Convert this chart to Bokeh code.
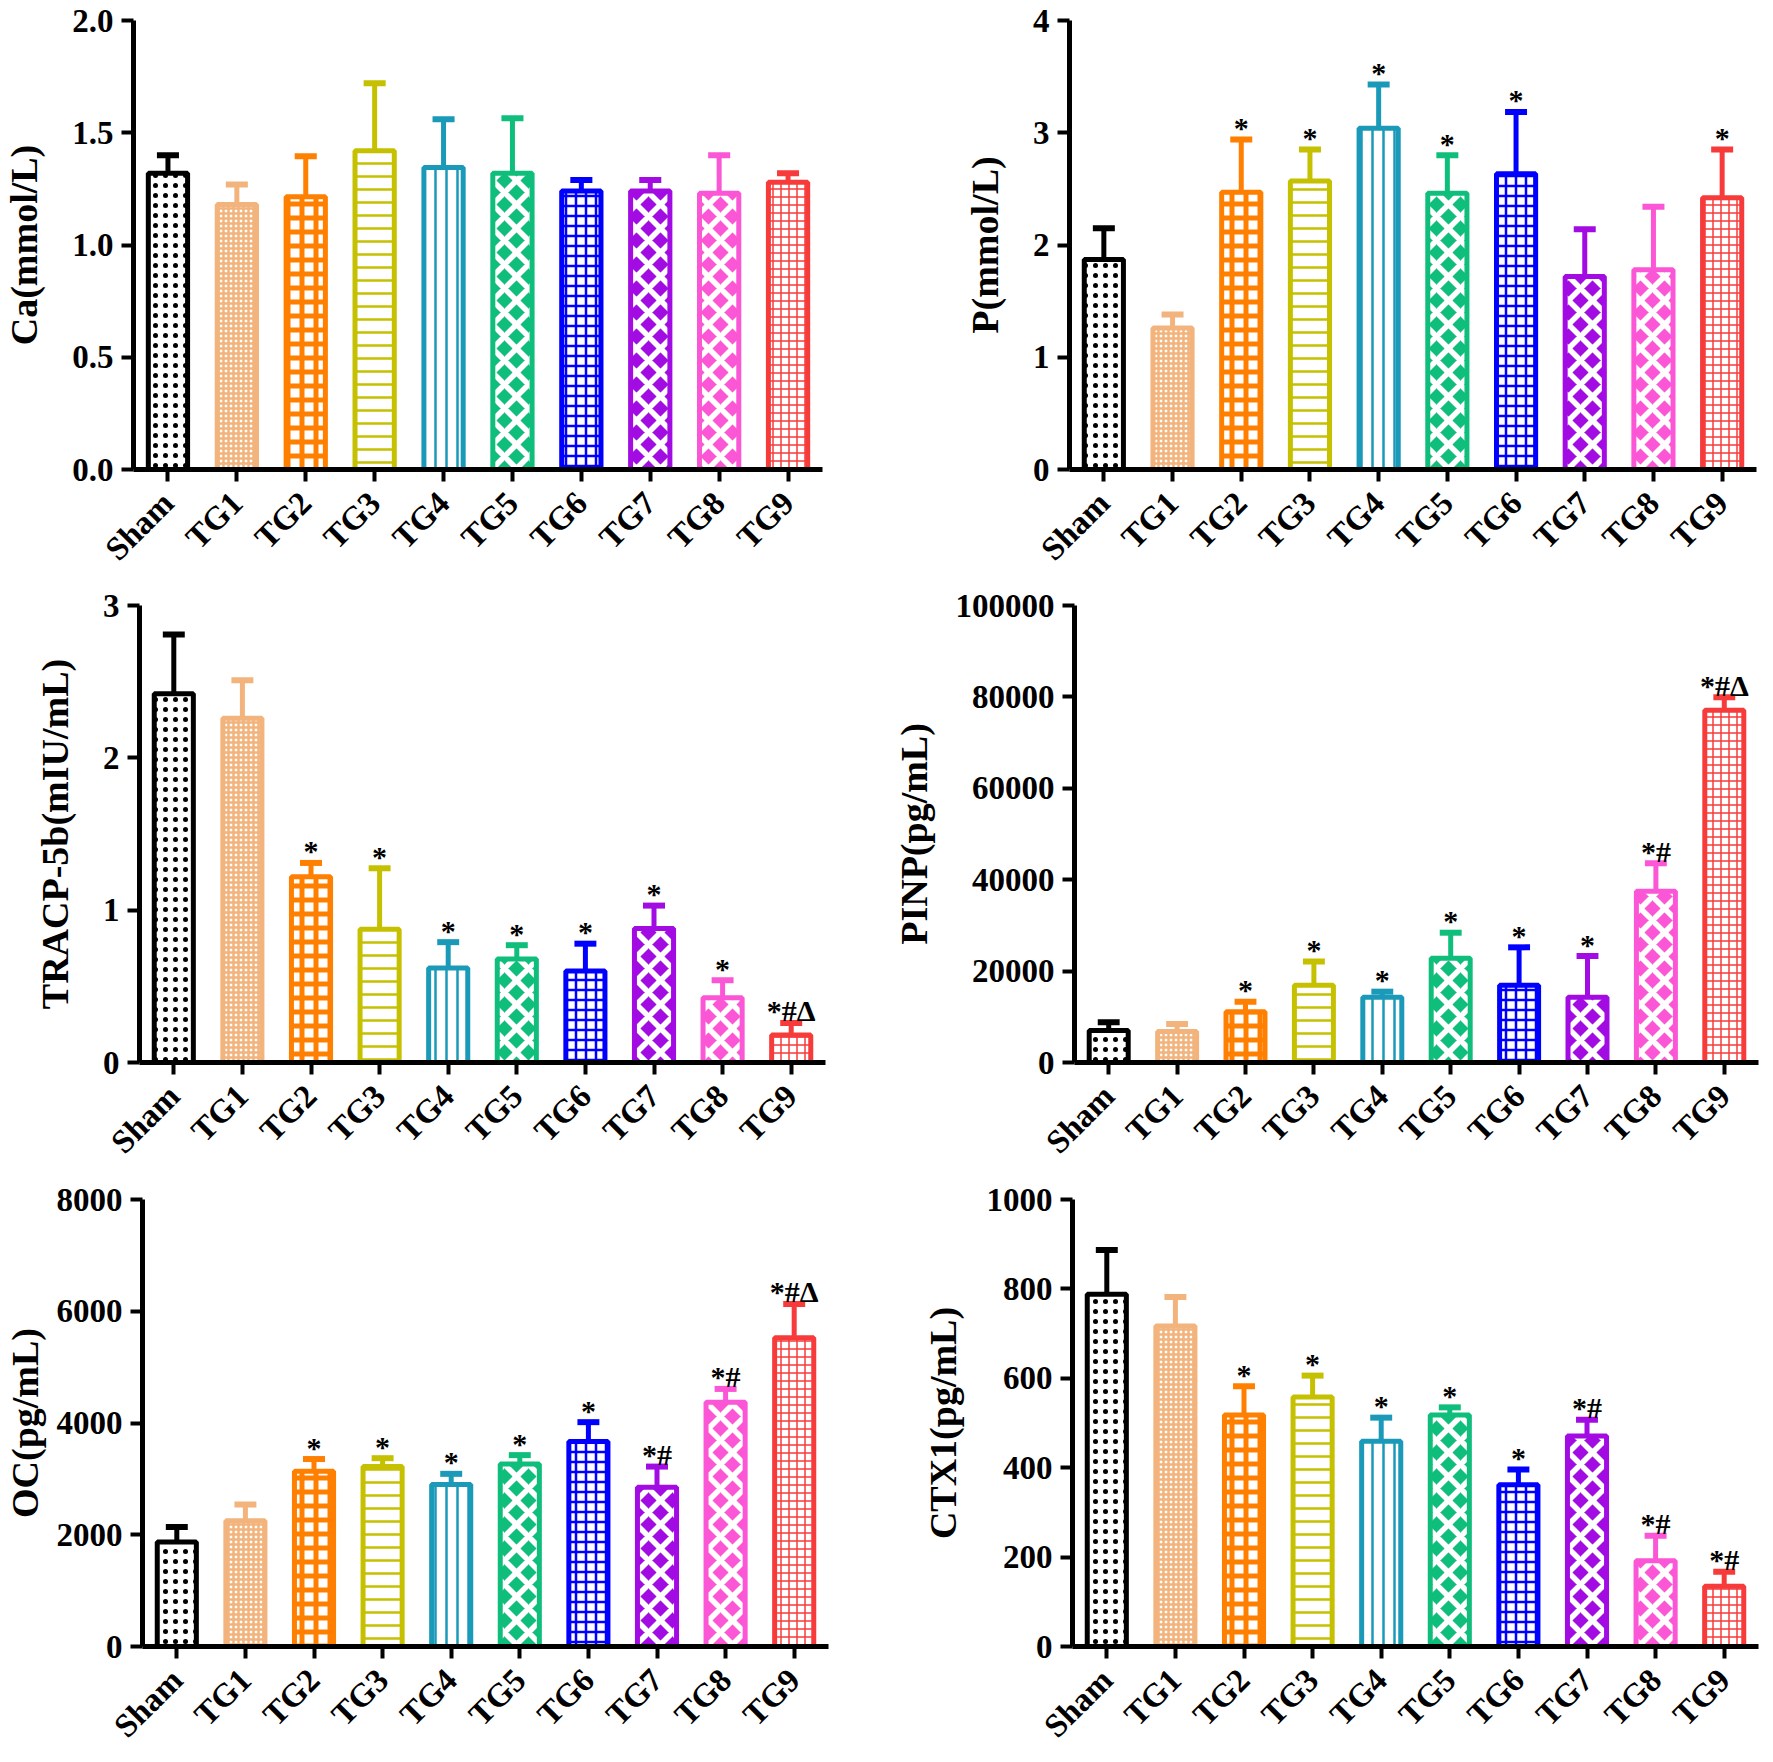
import math
from bokeh.plotting import figure
from bokeh.models import (Range1d, FactorRange, FixedTicker, NumeralTickFormatter,
                          ColumnDataSource)
from bokeh.layouts import column, row
from bokeh.embed import file_html
from bokeh.resources import INLINE
from bokeh.core.properties import value

# ---------------- data ----------------
groups = ["Sham", "TG1", "TG2", "TG3", "TG4", "TG5", "TG6", "TG7", "TG8", "TG9"]

ca_mean = [1.32, 1.18, 1.215, 1.42, 1.345, 1.32, 1.24, 1.24, 1.23, 1.28]
ca_err = [0.08, 0.09, 0.18, 0.30, 0.215, 0.245, 0.05, 0.05, 0.17, 0.04]
ca_marks = ["", "", "", "", "", "", "", "", "", ""]

p_mean = [1.87, 1.26, 2.47, 2.57, 3.04, 2.46, 2.635, 1.72, 1.78, 2.42]
p_err = [0.28, 0.12, 0.47, 0.28, 0.39, 0.34, 0.55, 0.42, 0.56, 0.43]
p_marks = ["", "", "*", "*", "*", "*", "*", "", "", "*"]

tracp_mean = [2.42, 2.26, 1.22, 0.875, 0.62, 0.68, 0.60, 0.88, 0.425, 0.18]
tracp_err = [0.39, 0.25, 0.09, 0.40, 0.17, 0.09, 0.18, 0.15, 0.115, 0.08]
tracp_marks = ["", "", "*", "*", "*", "*", "*", "*", "*", "*#Δ"]

pinp_mean = [7000, 6800, 11100, 16900, 14300, 22800, 16900, 14300, 37500, 77100]
pinp_err = [1800, 1600, 2200, 5200, 1200, 5600, 8300, 9000, 6100, 2800]
pinp_marks = ["", "", "*", "*", "*", "*", "*", "*", "*#", "*#Δ"]

oc_mean = [1870, 2250, 3135, 3220, 2900, 3265, 3670, 2850, 4370, 5525]
oc_err = [270, 290, 220, 150, 190, 160, 345, 370, 240, 605]
oc_marks = ["", "", "*", "*", "*", "*", "*", "*#", "*#", "*#Δ"]

ctx_mean = [788, 717, 518, 558, 459, 518, 362, 471, 192, 135]
ctx_err = [99, 65, 64, 48, 53, 17, 34, 36, 56, 32]
ctx_marks = ["", "", "*", "*", "*", "*", "*", "*#", "*#", "*#"]

# ---------------- styles ----------------
colors = ["#000000", "#F2B47C", "#FF7F00", "#C5C000", "#1A9AB8",
          "#10BE7C", "#0000FF", "#A30BE3", "#FB56D6", "#F73B3B"]
fill_colors = ["white", "white", "white", "white", "white",
               "#10BE7C", "white", "#A30BE3", "#FB56D6", "white"]
hatch_patterns = [".", "+", "+", "-", "|", "x", "+", "x", "x", "+"]
hatch_colors = ["#000000", "#F2B47C", "#FF7F00", "#C5C000", "#1A9AB8",
                "white", "#0000FF", "white", "white", "#F73B3B"]
hatch_scales = [10, 5, 14, 13, 11, 24, 10, 24, 24, 8]
hatch_weights = [0.5, 2.5, 5, 2.5, 2.5, 5.5, 2.5, 5.5, 5.5, 1.5]

FONT = "Liberation Serif"


def make_panel(mean, err, marks, top, ticks, fmt, ylabel, width, height,
               bl, br, bt, bb, label_standoff):
    src = ColumnDataSource(dict(
        g=groups, v=mean, hi=[m + e for m, e in zip(mean, err)],
        mk=marks, c=colors, fc=fill_colors, hp=hatch_patterns,
        hc=hatch_colors, hs=hatch_scales, hw=hatch_weights))
    p = figure(x_range=FactorRange(factors=groups), y_range=Range1d(0, top),
               width=width, height=height, output_backend="svg",
               toolbar_location=None, min_border_left=bl, min_border_right=br,
               min_border_top=bt, min_border_bottom=bb)
    p.segment(x0="g", y0="v", x1="g", y1="hi", line_color="c", line_width=5,
              source=src)
    p.rect(x="g", y="hi", width=0.32, height=6, height_units="screen",
           fill_color="c", line_color=None, source=src)
    p.vbar(x="g", top="v", bottom=0, width=0.57, source=src,
           fill_color="fc", line_color="c", line_width=5,
           hatch_pattern="hp", hatch_scale="hs", hatch_color="hc",
           hatch_weight="hw")
    p.text(x="g", y="hi", text="mk", source=src, text_font=value(FONT),
           text_font_style="bold", text_font_size="30px", text_align="center",
           text_baseline="alphabetic", y_offset=-12, text_color="black")

    p.xgrid.visible = False
    p.ygrid.visible = False
    p.outline_line_color = None
    p.background_fill_color = "white"
    p.border_fill_color = "white"

    for ax in (p.xaxis[0], p.yaxis[0]):
        ax.axis_line_width = 5
        ax.axis_line_color = "black"
        ax.major_tick_line_width = 4
        ax.major_tick_line_color = "black"
        ax.major_tick_out = 12
        ax.major_tick_in = 0
        ax.minor_tick_line_color = None
        ax.major_label_text_font = FONT
        ax.major_label_text_font_style = "bold"
        ax.major_label_text_color = "black"

    xa = p.xaxis[0]
    xa.major_label_orientation = math.pi / 4
    xa.major_label_standoff = 16
    xa.major_label_text_font_size = "33px"

    ya = p.yaxis[0]
    ya.ticker = FixedTicker(ticks=ticks)
    ya.formatter = NumeralTickFormatter(format=fmt)
    ya.major_label_standoff = 8
    ya.major_label_text_font_size = "33px"
    ya.axis_label = ylabel
    ya.axis_label_text_font = FONT
    ya.axis_label_text_font_style = "bold"
    ya.axis_label_text_font_size = "38px"
    ya.axis_label_text_color = "black"
    ya.axis_label_standoff = label_standoff
    return p


p1 = make_panel(ca_mean, ca_err, ca_marks, 2.0, [0, 0.5, 1.0, 1.5, 2.0], "0.0",
                "Ca(mmol/L)", 860, 584, 133, 38, 20, 115, 24)
p2 = make_panel(p_mean, p_err, p_marks, 4, [0, 1, 2, 3, 4], "0",
                "P(mmol/L)", 905, 584, 209, 9, 20, 115, 24)
p3 = make_panel(tracp_mean, tracp_err, tracp_marks, 3, [0, 1, 2, 3], "0",
                "TRACP-5b(mIU/mL)", 860, 592, 139, 35, 21, 113, 24)
p4 = make_panel(pinp_mean, pinp_err, pinp_marks, 100000,
                [0, 20000, 40000, 60000, 80000, 100000], "0",
                "PINP(pg/mL)", 905, 592, 214, 7, 20, 113, 18)
p5 = make_panel(oc_mean, oc_err, oc_marks, 8000, [0, 2000, 4000, 6000, 8000], "0",
                "OC(pg/mL)", 860, 584, 139, 32, 23, 104, 8)
p6 = make_panel(ctx_mean, ctx_err, ctx_marks, 1000, [0, 200, 400, 600, 800, 1000], "0",
                "CTX1(pg/mL)", 905, 584, 212, 7, 23, 104, 20)

layout = column(row(p1, p2), row(p3, p4), row(p5, p6))

with open("out.html", "w") as f:
    f.write(file_html(layout, INLINE))
